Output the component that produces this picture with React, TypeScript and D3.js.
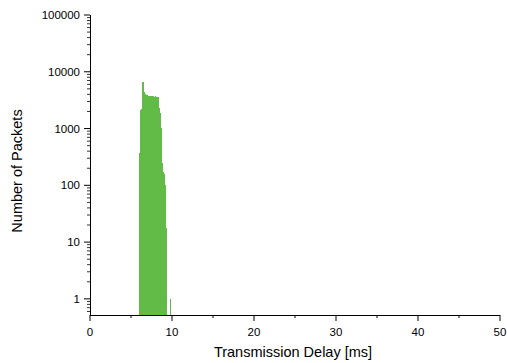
import React from "react";
import * as d3 from "d3";

const binStarts = [6.0, 6.1, 6.2, 6.3, 6.4, 6.5, 6.6, 6.7, 6.8, 6.9, 7.0, 7.1, 7.2, 7.3, 7.4, 7.5, 7.6, 7.7, 7.8, 7.9, 8.0, 8.1, 8.2, 8.3, 8.4, 8.5, 8.6, 8.7, 8.8, 8.9, 9.0, 9.1, 9.2, 9.3, 9.7];
const counts = [372, 2150, 2200, 4400, 6500, 5600, 4400, 4100, 3850, 3800, 3850, 3750, 3800, 3700, 3750, 3650, 3700, 3700, 3650, 3700, 3650, 3600, 3650, 3550, 2300, 1900, 1030, 320, 250, 170, 160, 100, 45, 18, 1];
const binWidth = 0.1;
const xTicks = [0, 10, 20, 30, 40, 50];
const xMinorTicks = [5, 15, 25, 35, 45];
const yTicks = [1, 10, 100, 1000, 10000, 100000];
const xTitle = "Transmission Delay [ms]";
const yTitle = "Number of Packets";

const W = 507, H = 363;
const left = 90, right = 500, top = 15, bottom = 315;
const color = "#63bb47";
const font = "'Liberation Sans', Arial, sans-serif";

export default function App() {
  const x = d3.scaleLinear().domain([0, 50]).range([left, right]);
  const y = d3.scaleLog().domain([0.52, 100000]).range([bottom, top]);
  const minor: number[] = [];
  for (let e = -1; e <= 4; e++) {
    for (let m = 2; m <= 9; m++) {
      const v = m * Math.pow(10, e);
      if (v >= 0.52 && v <= 100000) minor.push(v);
    }
  }
  return (
    <svg width={W} height={H} style={{ position: "absolute", left: 0, top: 0, background: "#fff" }}>
      <g shapeRendering="crispEdges">
        {binStarts.map((b, i) => (
          <rect key={i} x={x(b)} width={x(b + binWidth) - x(b) + 0.2} y={y(counts[i])} height={bottom - y(counts[i])} fill={color} />
        ))}
      </g>
      <line x1={left + 0.5} x2={left + 0.5} y1={top} y2={bottom} stroke="#000" strokeWidth={1} />
      <line x1={left} x2={right} y1={bottom + 0.5} y2={bottom + 0.5} stroke="#000" strokeWidth={1} />
      {yTicks.map((t) => (
        <g key={"y" + t}>
          <line x1={left - 6} x2={left} y1={y(t)} y2={y(t)} stroke="#000" />
          <text x={left - 10} y={y(t)} dy="0.35em" textAnchor="end" fontFamily={font} fontSize={11.5} fill="#000">{t}</text>
        </g>
      ))}
      {minor.map((t) => (
        <line key={"ym" + t} x1={left - 3} x2={left} y1={y(t)} y2={y(t)} stroke="#000" strokeWidth={0.8} />
      ))}
      {xTicks.map((t) => (
        <g key={"x" + t}>
          <line x1={x(t)} x2={x(t)} y1={bottom} y2={bottom + 6} stroke="#000" />
          <text x={x(t)} y={bottom + 21} textAnchor="middle" fontFamily={font} fontSize={11.5} fill="#000">{t}</text>
        </g>
      ))}
      {xMinorTicks.map((t) => (
        <line key={"xm" + t} x1={x(t)} x2={x(t)} y1={bottom} y2={bottom + 3} stroke="#000" />
      ))}
      <text x={(left + right) / 2 - 2} y={357} textAnchor="middle" fontFamily={font} fontSize={14.5} fill="#000">{xTitle}</text>
      <text transform={`translate(22, ${(top + bottom) / 2 + 6}) rotate(-90)`} textAnchor="middle" fontFamily={font} fontSize={14.5} fill="#000">{yTitle}</text>
    </svg>
  );
}
